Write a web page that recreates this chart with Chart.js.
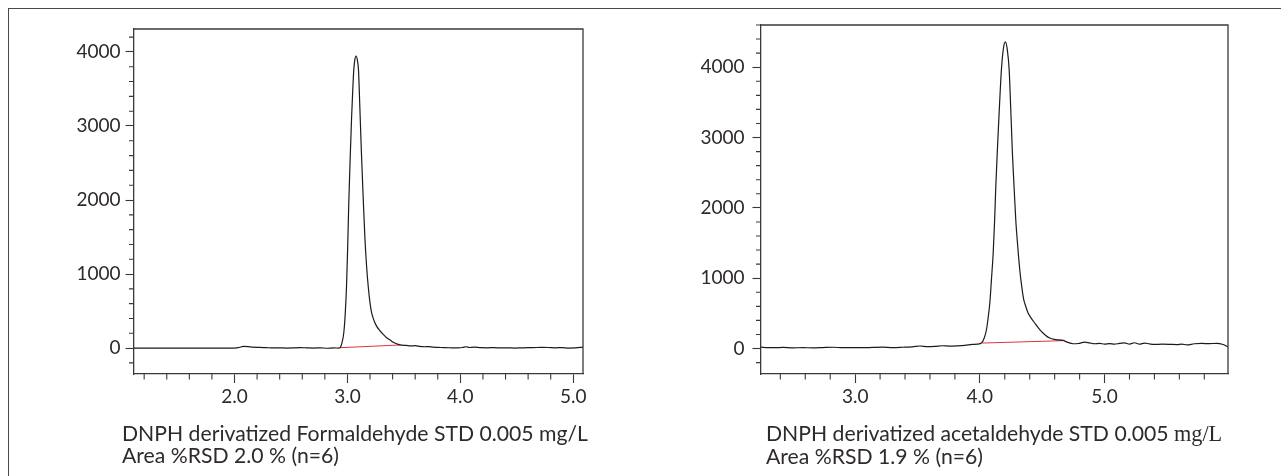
<!DOCTYPE html>
<html><head><meta charset="utf-8">
<script src="https://cdn.jsdelivr.net/npm/chart.js@4.4.1/dist/chart.umd.min.js"></script>
<style>
html,body{margin:0;padding:0;background:#fff;width:1281px;height:476px;overflow:hidden;}
#frame{position:absolute;left:8px;top:8px;width:1400px;height:600px;border-top:1.5px solid #4d4848;border-left:1.5px solid #4d4848;}
.wrap{position:absolute;top:0;height:476px;}
#w1{left:0;width:640px;} #w2{left:640px;width:641px;}
.cap{position:absolute;font-family:Lato,"Open Sans",sans-serif;font-size:21.2px;line-height:22px;color:#2f2a2a;white-space:nowrap;}
.serif{font-family:"Liberation Serif",serif;font-size:1.05em;}
</style></head>
<body>
<div id="frame"></div>
<div class="wrap" id="w1"><canvas id="c1"></canvas></div>
<div class="wrap" id="w2"><canvas id="c2"></canvas></div>
<div class="cap" id="cap1" style="left:122px;top:422px">DNPH derivatized Formaldehyde STD 0.005 mg/L<br>Area %RSD 2.0 % (n=6)</div>
<div class="cap" id="cap2" style="left:766px;top:422px">DNPH derivatized acetaldehyde STD 0.005 <span class="serif">mg/L</span><br>Area %RSD 1.9 % (n=6)</div>
<script>
// ---- Formaldehyde chromatogram (left) ----
const formTime = [1.11,1.5,1.9,2.0,2.04,2.08,2.12,2.16,2.22,2.28,2.34,2.40,2.46,2.52,2.58,2.64,2.70,2.76,2.82,2.88,2.92,
  2.934,2.95,2.968,2.98,2.992,3.002,3.012,3.024,3.036,3.046,3.056,3.066,3.077,3.088,3.098,3.11,3.124,3.139,3.154,3.169,3.184,3.199,3.214,3.236,3.258,3.287,3.317,3.347,3.378,3.41,3.45,
  3.48,3.52,3.56,3.60,3.64,3.68,3.72,3.76,3.80,3.86,3.92,3.98,4.02,4.05,4.08,4.12,4.18,4.24,4.30,4.36,4.42,4.48,4.56,4.64,4.72,4.78,4.84,4.90,4.96,5.02,5.086];
const formSignal = [0,0,0,0,8,22,20,12,10,6,2,4,0,2,6,3,0,4,-2,2,0,
  5,60,210,450,835,1350,1963,2550,3082,3450,3756,3900,3945,3890,3756,3250,2636,2050,1510,1120,835,620,480,370,297,235,185,140,108,75,50,
  40,36,30,32,22,18,20,12,10,6,4,2,8,18,8,12,6,4,6,2,4,0,4,6,10,8,4,6,0,2,14];
const formBaseTime = [2.934, 3.47];
const formBaseSignal = [5, 42];
const formXTicks = [2.0, 3.0, 4.0, 5.0];
const formYTicks = [0, 1000, 2000, 3000, 4000];

// ---- Acetaldehyde chromatogram (right) ----
const acetTime = [2.245,2.30,2.36,2.42,2.5,2.58,2.66,2.74,2.82,2.90,2.98,3.06,3.14,3.22,3.30,3.38,3.46,3.52,3.58,3.64,3.70,3.76,3.82,3.88,3.94,3.98,
  4.013,4.035,4.053,4.066,4.08,4.093,4.107,4.118,4.128,4.14,4.152,4.163,4.173,4.19,4.205,4.22,4.235,4.248,4.261,4.275,4.288,4.304,4.32,4.336,4.352,4.37,4.387,4.413,4.44,4.466,4.493,4.526,4.56,4.61,4.667,
  4.70,4.747,4.79,4.84,4.88,4.92,4.96,5.00,5.04,5.08,5.12,5.16,5.20,5.24,5.28,5.32,5.36,5.40,5.46,5.52,5.58,5.62,5.66,5.72,5.78,5.84,5.90,5.95,5.99];
const acetSignal = [20,14,12,16,10,12,10,14,18,12,14,12,16,20,14,18,24,36,26,30,40,34,38,45,58,62,
  78,150,267,430,647,980,1358,1800,2306,2800,3255,3650,3966,4280,4360,4250,3966,3400,2781,2280,1832,1450,1121,880,694,590,505,430,363,300,243,190,149,128,115,
  92,68,72,92,80,68,72,64,70,62,74,80,64,82,62,78,66,58,62,60,56,64,52,68,72,70,74,58,22];
const acetBaseTime = [4.02, 4.667];
const acetBaseSignal = [78, 112];
const acetXTicks = [3.0, 4.0, 5.0];
const acetYTicks = [0, 1000, 2000, 3000, 4000];

const AX = '#3d3838';
const TX = '#2f2a2a';
const FONT = 'Lato, "Open Sans", sans-serif';

function pts(t, s){ return t.map((v,i)=>({x:v, y:s[i]})); }

const frameMinor = {
  id:'frameMinor',
  afterDraw(chart){
    const o = chart.options.plugins.frameMinor;
    const {ctx, chartArea:a, scales:{x, y}} = chart;
    ctx.save();
    ctx.strokeStyle = AX; ctx.lineWidth = 1.3;
    ctx.beginPath();
    ctx.moveTo(a.left, a.top); ctx.lineTo(a.right, a.top); ctx.lineTo(a.right, a.bottom);
    ctx.stroke();
    ctx.lineWidth = 1.1;
    ctx.beginPath();
    for (let k = Math.ceil(x.min/o.xStep); k*o.xStep <= x.max + 1e-9; k++){
      const v = k*o.xStep;
      if (Math.abs(v - Math.round(v)) < 1e-6) continue;
      const px = x.getPixelForValue(v);
      ctx.moveTo(px, a.bottom); ctx.lineTo(px, a.bottom + 5.5);
    }
    for (let k = Math.ceil(y.min/o.yStep); k*o.yStep <= y.max + 1e-9; k++){
      const v = k*o.yStep;
      if (Math.abs(v/1000 - Math.round(v/1000)) < 1e-6) continue;
      const py = y.getPixelForValue(v);
      ctx.moveTo(a.left, py); ctx.lineTo(a.left - 5, py);
    }
    ctx.stroke();
    ctx.restore();
  }
};

function makeChart(id, c){
  return new Chart(document.getElementById(id), {
    type:'line',
    data:{ datasets:[
      { data: pts(c.time, c.signal), borderColor:'#1e1a1a', borderWidth:1.2, pointRadius:0, cubicInterpolationMode:'monotone', fill:false },
      { data: pts(c.baseT, c.baseS), borderColor:'#e0313c', borderWidth:1, pointRadius:0, fill:false }
    ]},
    options:{
      responsive:true, maintainAspectRatio:false, animation:false,
      layout:{ padding:c.pad },
      plugins:{ legend:{display:false}, tooltip:{enabled:false}, frameMinor:{xStep:0.2, yStep:200} },
      scales:{
        x:{ type:'linear', min:c.xMin, max:c.xMax,
          afterBuildTicks:s=>{ s.ticks = c.xTicks.map(v=>({value:v})); },
          afterFit:s=>{ s.height = 40; },
          grid:{ display:true, drawOnChartArea:false, drawTicks:true, tickLength:9, tickColor:AX, tickWidth:1.1 },
          border:{ display:true, color:AX, width:1.3 },
          ticks:{ color:TX, font:{family:FONT, size:19}, padding:2, maxRotation:0, autoSkip:false, callback:v=>Number(v).toFixed(1) } },
        y:{ type:'linear', min:c.yMin, max:c.yMax,
          afterBuildTicks:s=>{ s.ticks = c.yTicks.map(v=>({value:v})); },
          afterFit:s=>{ s.width = 60; },
          grid:{ display:true, drawOnChartArea:false, drawTicks:true, tickLength:8.5, tickColor:AX, tickWidth:1.1 },
          border:{ display:true, color:AX, width:1.3 },
          ticks:{ color:TX, font:{family:FONT, size:19}, padding:c.yPad, autoSkip:false, callback:v=>String(v) } }
      }
    },
    plugins:[frameMinor]
  });
}

makeChart('c1', { time:formTime, signal:formSignal, baseT:formBaseTime, baseS:formBaseSignal,
  xMin:1.11, xMax:5.086, yMin:-350, yMax:4310, xTicks:formXTicks, yTicks:formYTicks,
  pad:{left:74, top:29, right:57, bottom:62}, yPad:5 });
makeChart('c2', { time:acetTime, signal:acetSignal, baseT:acetBaseTime, baseS:acetBaseSignal,
  xMin:2.245, xMax:5.99, yMin:-362, yMax:4600, xTicks:acetXTicks, yTicks:acetYTicks,
  pad:{left:61, top:25, right:53, bottom:62}, yPad:8 });
</script>
</body></html>
